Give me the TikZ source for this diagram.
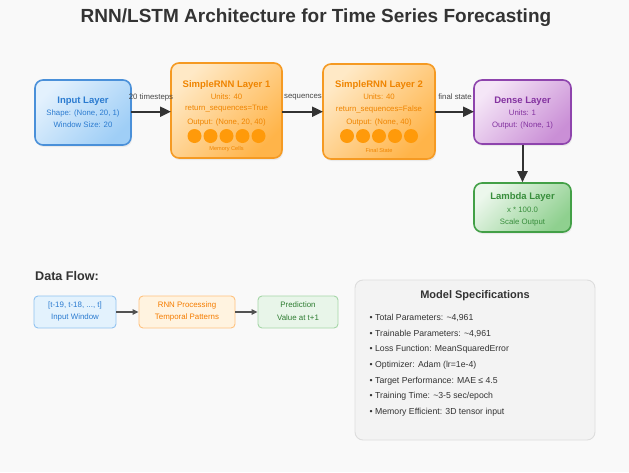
\documentclass[tikz,border=0pt]{standalone}
\usepackage{fontspec}
\setmainfont{Liberation Sans}
\usetikzlibrary{arrows.meta,shadows}
\definecolor{bg}{HTML}{F9F9F9}
\definecolor{titlec}{HTML}{333333}
\definecolor{inL}{HTML}{E3F1FD}\definecolor{inD}{HTML}{9FCEF6}\definecolor{inB}{HTML}{4A90D9}\definecolor{inT}{HTML}{2B7BD0}
\definecolor{rnL}{HTML}{FFE9C6}\definecolor{rnD}{HTML}{FFB449}\definecolor{rnB}{HTML}{F59A23}\definecolor{rnT}{HTML}{EF8400}\definecolor{rnC}{HTML}{FF9A0A}
\definecolor{deL}{HTML}{F5E6F7}\definecolor{deD}{HTML}{CA8FD6}\definecolor{deB}{HTML}{8E44AD}\definecolor{deT}{HTML}{8433A0}
\definecolor{laL}{HTML}{ECF7EC}\definecolor{laD}{HTML}{8FD08F}\definecolor{laB}{HTML}{43A047}\definecolor{laT}{HTML}{388E3C}
\definecolor{arr}{HTML}{333333}
\definecolor{fbF}{HTML}{E3F2FD}\definecolor{fbB}{HTML}{90C2F0}\definecolor{fbT}{HTML}{2B7BD0}
\definecolor{foF}{HTML}{FFF3E0}\definecolor{foB}{HTML}{FFC27F}\definecolor{foT}{HTML}{F57C00}
\definecolor{fgF}{HTML}{E8F5E9}\definecolor{fgB}{HTML}{A5D6A7}\definecolor{fgT}{HTML}{2E7D32}
\definecolor{spF}{HTML}{F3F3F3}\definecolor{spB}{HTML}{DDDDDD}\definecolor{spT}{HTML}{333333}
\tikzset{
  layer/.style={draw, line width=1.6pt, rounded corners=8pt, inner sep=0pt,
     drop shadow={opacity=0.12, shadow xshift=1pt, shadow yshift=-2pt}},
  ttl/.style={font=\bfseries\fontsize{9.5}{11}\selectfont, inner sep=0pt},
  txt/.style={font=\fontsize{7.8}{9}\selectfont, inner sep=0pt},
  ftxt/.style={font=\fontsize{7.9}{9}\selectfont, inner sep=0pt},
  stxt/.style={font=\fontsize{8.7}{10}\selectfont, inner sep=0pt},
  tiny/.style={font=\fontsize{5.6}{7}\selectfont, inner sep=0pt},
  lbl/.style={font=\fontsize{7.8}{9}\selectfont, text=titlec!90, inner sep=0pt},
  bigarrow/.style={draw=arr, line width=2pt, -{Triangle[length=11pt,width=10pt]}},
  smallarrow/.style={draw=arr!85, line width=1.4pt, -{Triangle[length=6pt,width=5.5pt]}},
  cell/.style={circle, fill=rnC, minimum size=14pt, inner sep=0pt},
  flowbox/.style={draw, line width=0.9pt, rounded corners=4pt, inner sep=0pt},
}
\begin{document}
\begin{tikzpicture}[x=1pt,y=-1pt]
\fill[bg] (0,0) rectangle (629,472);
\useasboundingbox (0,0) rectangle (629,472);
\node[font=\bfseries\fontsize{19}{21}\selectfont, text=titlec] (title) at (316,18) {RNN/LSTM Architecture for Time Series Forecasting};

% Input layer
\node[layer, draw=inB, top color=inL, bottom color=inD, shading angle=45, minimum width=96pt, minimum height=65pt] (input) at (83,112.5) {};
\node[ttl, text=inT] (inputT) at (83,101) {Input Layer};
\node[txt, text=inT] (inputA) at (83,113) {Shape: (None, 20, 1)};
\node[txt, text=inT] (inputB) at (83,125) {Window Size: 20};

% RNN 1
\node[layer, draw=rnB, top color=rnL, bottom color=rnD, shading angle=45, minimum width=111pt, minimum height=95pt] (rnn1) at (226.5,110.5) {};
\node[ttl, text=rnT] (r1T) at (226.5,85) {SimpleRNN Layer 1};
\node[txt, text=rnT] (r1A) at (226.5,97) {Units: 40};
\node[txt, text=rnT] (r1B) at (226.5,109) {return\_sequences=True};
\node[txt, text=rnT] (r1C) at (226.5,122) {Output: (None, 20, 40)};
\foreach \i/\x in {1/194.5,2/210.5,3/226.5,4/242.5,5/258.5}{\node[cell] (r1c\i) at (\x,136) {};}
\node[tiny, text=rnT] (r1D) at (226.5,149.5) {Memory Cells};

% RNN 2
\node[layer, draw=rnB, top color=rnL, bottom color=rnD, shading angle=45, minimum width=112pt, minimum height=95pt] (rnn2) at (379,111.5) {};
\node[ttl, text=rnT] (r2T) at (379,85) {SimpleRNN Layer 2};
\node[txt, text=rnT] (r2A) at (379,97) {Units: 40};
\node[txt, text=rnT] (r2B) at (379,109) {return\_sequences=False};
\node[txt, text=rnT] (r2C) at (379,122) {Output: (None, 40)};
\foreach \i/\x in {1/347,2/363,3/379,4/395,5/411}{\node[cell] (r2c\i) at (\x,136) {};}
\node[tiny, text=rnT] (r2D) at (379,150) {Final State};

% Dense
\node[layer, draw=deB, top color=deL, bottom color=deD, shading angle=45, minimum width=97pt, minimum height=64pt] (dense) at (522.5,112) {};
\node[ttl, text=deT] (dT) at (522.5,101) {Dense Layer};
\node[txt, text=deT] (dA) at (522.5,113) {Units: 1};
\node[txt, text=deT] (dB) at (522.5,125) {Output: (None, 1)};

% Lambda
\node[layer, draw=laB, top color=laL, bottom color=laD, shading angle=45, minimum width=97pt, minimum height=49pt] (lambda) at (522.5,207.5) {};
\node[ttl, text=laT] (lT) at (522.5,197) {Lambda Layer};
\node[txt, text=laT] (lA) at (522.5,209.5) {x * 100.0};
\node[txt, text=laT] (lB) at (522.5,222) {Scale Output};

% Arrows
\coordinate (a1s) at (131,111.7);
\coordinate (a1e) at (171,111.7);
\draw[bigarrow] (a1s) -- (a1e);
\node[lbl] (l1) at (151,97) {20 timesteps};
\coordinate (a2s) at (282,111.7);
\coordinate (a2e) at (323,111.7);
\draw[bigarrow] (a2s) -- (a2e);
\node[lbl] (l2) at (303,97) {sequences};
\coordinate (a3s) at (435,111.7);
\coordinate (a3e) at (474,111.7);
\draw[bigarrow] (a3s) -- (a3e);
\node[lbl] (l3) at (455,97) {final state};
\draw[bigarrow] (dense.south) -- (lambda.north);

% Data flow
\node[font=\bfseries\fontsize{12.6}{14}\selectfont, text=titlec, anchor=west, inner sep=0pt] (dfT) at (35,276) {Data Flow:};
\node[flowbox, draw=fbB, fill=fbF, minimum width=82pt, minimum height=32pt] (f1) at (75,312) {};
\node[ftxt, text=fbT] (f1a) at (75,305) {[t-19, t-18, ..., t]};
\node[ftxt, text=fbT] (f1b) at (75,317.5) {Input Window};
\node[flowbox, draw=foB, fill=foF, minimum width=96pt, minimum height=32pt] (f2) at (187,312) {};
\node[ftxt, text=foT] (f2a) at (187,305) {RNN Processing};
\node[ftxt, text=foT] (f2b) at (187,317.5) {Temporal Patterns};
\node[flowbox, draw=fgB, fill=fgF, minimum width=80pt, minimum height=32pt] (f3) at (298,312) {};
\node[ftxt, text=fgT] (f3a) at (298,305) {Prediction};
\node[ftxt, text=fgT] (f3b) at (298,317.5) {Value at t+1};
\draw[smallarrow] (f1.east) -- (f2.west);
\draw[smallarrow] (f2.east) -- (f3.west);

% Specs
\node[draw=spB, fill=spF, line width=0.9pt, rounded corners=8pt, minimum width=240pt, minimum height=160pt, inner sep=0pt] (spec) at (475,360) {};
\node[font=\bfseries\fontsize{11}{13}\selectfont, text=spT, inner sep=0pt] (specT) at (475,296) {Model Specifications};
\foreach \i/\y/\t in {1/317.7/{Total Parameters: \textasciitilde4,961},
                      2/333.5/{Trainable Parameters: \textasciitilde4,961},
                      3/349.2/{Loss Function: MeanSquaredError},
                      4/365/{Optimizer: Adam (lr=1e-4)},
                      5/380.8/{Target Performance: MAE ≤ 4.5},
                      6/396.6/{Training Time: \textasciitilde3-5 sec/epoch},
                      7/412.4/{Memory Efficient: 3D tensor input}}{
  \node[stxt, text=spT, anchor=west] (s\i) at (369.5,\y) {• \t};
}
\end{tikzpicture}
\end{document}
